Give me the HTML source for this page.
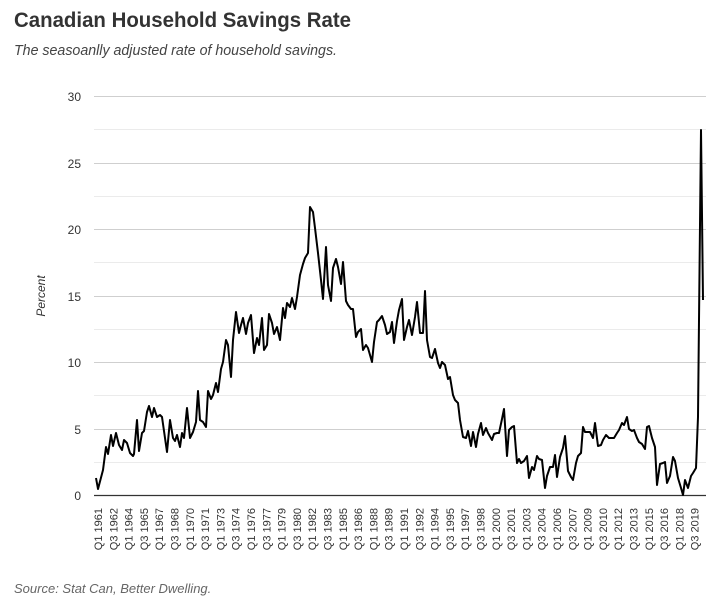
<!DOCTYPE html>
<html><head><meta charset="utf-8"><style>
body{margin:0;background:#fff;width:727px;height:601px;overflow:hidden}
svg{display:block}
</style></head><body>
<svg width="727" height="601" xmlns="http://www.w3.org/2000/svg" font-family="Liberation Sans, sans-serif">
<text x="14" y="27" font-size="21" font-weight="bold" fill="#333" textLength="337" lengthAdjust="spacingAndGlyphs">Canadian Household Savings Rate</text>
<text x="14" y="55" font-size="15" font-style="italic" fill="#444" textLength="323" lengthAdjust="spacingAndGlyphs">The seasoanlly adjusted rate of household savings.</text>
<g stroke="#ebebeb" stroke-width="1">
<line x1="94" x2="706" y1="129.5" y2="129.5"/><line x1="94" x2="706" y1="196.5" y2="196.5"/><line x1="94" x2="706" y1="262.5" y2="262.5"/><line x1="94" x2="706" y1="329.5" y2="329.5"/><line x1="94" x2="706" y1="395.5" y2="395.5"/><line x1="94" x2="706" y1="462.5" y2="462.5"/>
</g>
<g stroke="#cfcfcf" stroke-width="1">
<line x1="94" x2="706" y1="96.5" y2="96.5"/><line x1="94" x2="706" y1="163.5" y2="163.5"/><line x1="94" x2="706" y1="229.5" y2="229.5"/><line x1="94" x2="706" y1="296.5" y2="296.5"/><line x1="94" x2="706" y1="362.5" y2="362.5"/><line x1="94" x2="706" y1="429.5" y2="429.5"/>
</g>
<line x1="94" x2="706" y1="495.5" y2="495.5" stroke="#333" stroke-width="1.2"/>
<g font-size="12" fill="#333" text-anchor="end">
<text x="81" y="101">30</text><text x="81" y="168">25</text><text x="81" y="234">20</text><text x="81" y="301">15</text><text x="81" y="367">10</text><text x="81" y="434">5</text><text x="81" y="500">0</text>
</g>
<text transform="translate(45,296) rotate(-90)" font-size="12" font-style="italic" fill="#333" text-anchor="middle">Percent</text>
<polyline fill="none" stroke="#000" stroke-width="2" stroke-linejoin="round" points="96,478 98,489 103,470 106,447 108,454 111,435 113,446 116,433 119,445 122,450 124,440 127,443 130,453 133,456 134,454 137,420 139,451 142,433 144,431 147,412 149,406 152,417 154,408 157,417 160,415 162,417 167,452 170,420 173,438 175,441 177,435 180,447 182,433 184,438 187,408 190,438 193,432 196,422 198,391 200,420 203,422 206,427 208,391 211,399 213,395 216,383 218,392 221,369 223,362 226,340 228,345 231,377 233,340 236,312 239,333 241,325 243,318 246,334 248,323 251,315 254,353 257,338 259,345 262,318 264,350 267,345 269,314 272,323 274,334 277,327 280,340 283,308 285,318 287,303 290,307 292,298 295,309 297,297 300,275 303,264 305,258 308,253 310,207 313,212 315,228 318,253 321,280 323,299 326,247 328,285 331,301 333,268 336,259 338,267 341,284 343,262 346,301 348,305 351,309 353,309 356,337 358,332 361,329 363,350 366,345 368,348 372,362 374,342 377,322 379,320 382,316 385,325 387,334 390,332 392,322 394,343 397,321 399,310 402,299 404,340 407,327 409,320 412,335 415,317 417,302 420,333 423,333 425,291 427,340 430,357 432,358 435,349 438,363 440,368 442,362 445,365 448,379 450,377 453,395 455,400 458,403 460,420 463,437 466,438 468,431 471,446 473,432 476,447 478,434 481,423 483,435 486,428 488,433 492,440 494,434 497,433 499,433 502,419 504,409 507,456 509,430 512,427 514,426 517,463 519,459 521,463 524,461 527,456 529,478 532,467 534,470 537,456 539,459 542,460 545,488 547,476 550,467 553,467 555,455 557,477 560,457 563,448 565,436 568,471 571,477 573,480 576,463 578,456 581,453 583,427 585,432 588,432 590,432 593,438 595,423 598,446 601,445 603,440 606,435 609,438 611,438 614,438 617,433 619,430 622,423 624,425 627,417 629,429 632,431 634,430 637,438 639,442 642,444 645,449 647,427 649,426 652,438 655,447 657,485 660,464 663,463 665,462 667,483 670,476 673,457 675,461 678,478 681,488 683,495 685,480 688,488 691,476 693,473 696,468 698,417 699,320 701,130 703,300"/>
<g font-size="11" fill="#333" text-anchor="end" id="xl">
<text transform="translate(102,508) rotate(-90)">Q1 1961</text>
<text transform="translate(117.3,508) rotate(-90)">Q3 1962</text>
<text transform="translate(132.6,508) rotate(-90)">Q1 1964</text>
<text transform="translate(147.9,508) rotate(-90)">Q3 1965</text>
<text transform="translate(163.2,508) rotate(-90)">Q1 1967</text>
<text transform="translate(178.5,508) rotate(-90)">Q3 1968</text>
<text transform="translate(193.8,508) rotate(-90)">Q1 1970</text>
<text transform="translate(209.1,508) rotate(-90)">Q3 1971</text>
<text transform="translate(224.4,508) rotate(-90)">Q1 1973</text>
<text transform="translate(239.7,508) rotate(-90)">Q3 1974</text>
<text transform="translate(255,508) rotate(-90)">Q1 1976</text>
<text transform="translate(270.3,508) rotate(-90)">Q3 1977</text>
<text transform="translate(285.6,508) rotate(-90)">Q1 1979</text>
<text transform="translate(300.9,508) rotate(-90)">Q3 1980</text>
<text transform="translate(316.2,508) rotate(-90)">Q1 1982</text>
<text transform="translate(331.5,508) rotate(-90)">Q3 1983</text>
<text transform="translate(346.8,508) rotate(-90)">Q1 1985</text>
<text transform="translate(362.1,508) rotate(-90)">Q3 1986</text>
<text transform="translate(377.4,508) rotate(-90)">Q1 1988</text>
<text transform="translate(392.7,508) rotate(-90)">Q3 1989</text>
<text transform="translate(408,508) rotate(-90)">Q1 1991</text>
<text transform="translate(423.3,508) rotate(-90)">Q3 1992</text>
<text transform="translate(438.6,508) rotate(-90)">Q1 1994</text>
<text transform="translate(453.9,508) rotate(-90)">Q3 1995</text>
<text transform="translate(469.2,508) rotate(-90)">Q1 1997</text>
<text transform="translate(484.5,508) rotate(-90)">Q3 1998</text>
<text transform="translate(499.8,508) rotate(-90)">Q1 2000</text>
<text transform="translate(515.1,508) rotate(-90)">Q3 2001</text>
<text transform="translate(530.4,508) rotate(-90)">Q1 2003</text>
<text transform="translate(545.7,508) rotate(-90)">Q3 2004</text>
<text transform="translate(561,508) rotate(-90)">Q1 2006</text>
<text transform="translate(576.3,508) rotate(-90)">Q3 2007</text>
<text transform="translate(591.6,508) rotate(-90)">Q1 2009</text>
<text transform="translate(606.9,508) rotate(-90)">Q3 2010</text>
<text transform="translate(622.2,508) rotate(-90)">Q1 2012</text>
<text transform="translate(637.5,508) rotate(-90)">Q3 2013</text>
<text transform="translate(652.8,508) rotate(-90)">Q1 2015</text>
<text transform="translate(668.1,508) rotate(-90)">Q3 2016</text>
<text transform="translate(683.4,508) rotate(-90)">Q1 2018</text>
<text transform="translate(698.7,508) rotate(-90)">Q3 2019</text>
</g>
<text x="14" y="593" font-size="13" font-style="italic" fill="#666">Source: Stat Can, Better Dwelling.</text>
</svg>
</body></html>
